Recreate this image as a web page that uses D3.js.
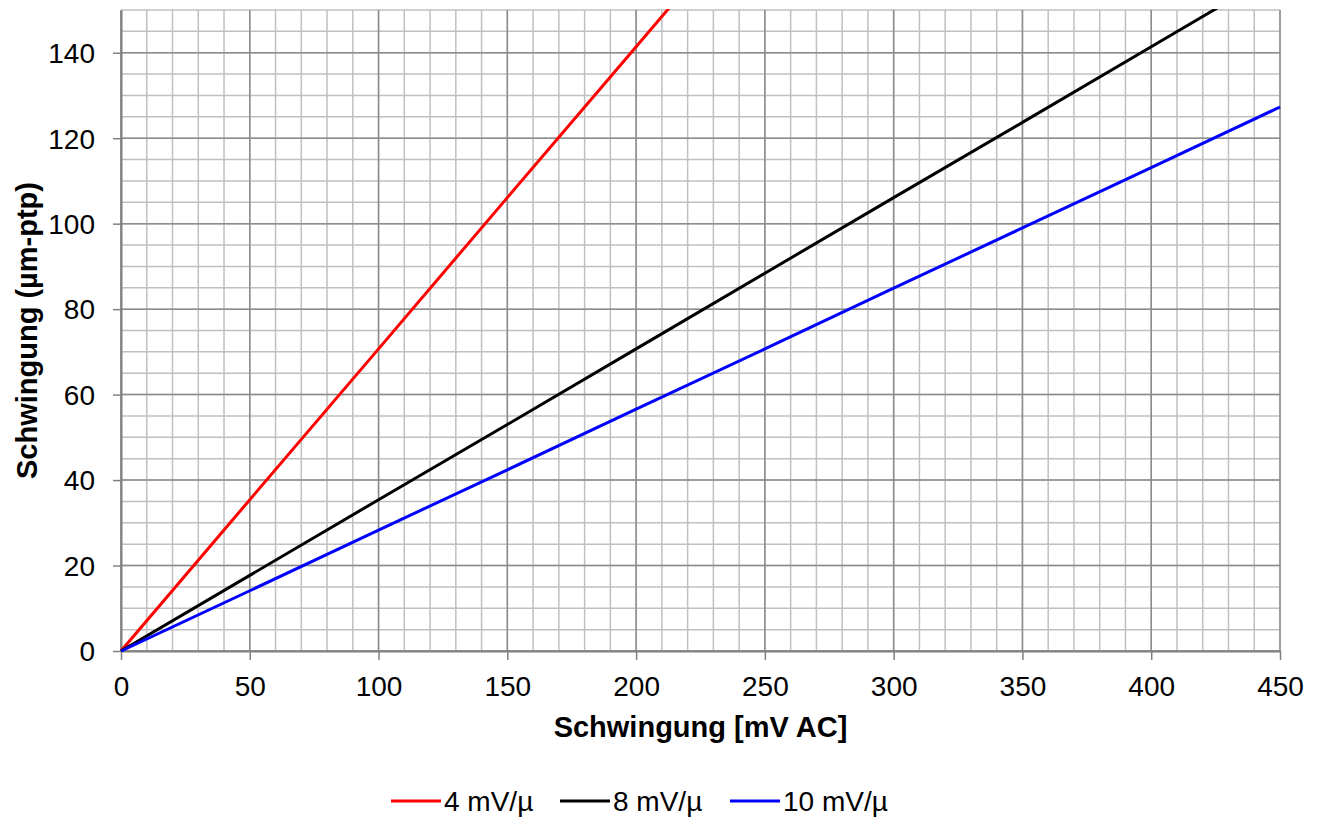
<!DOCTYPE html>
<html>
<head>
<meta charset="utf-8">
<script src="https://cdn.jsdelivr.net/npm/d3@7"></script>
<style>
  body { margin: 0; background: #fff; }
  svg { font-family: "Liberation Sans", Arial, sans-serif; }
  .tick text { font-size: 28px; fill: #000; }
</style>
</head>
<body>
<div id="chart"></div>
<script>
// data
var mvValues = [0, 50, 100, 150, 200, 250, 300, 350, 400, 450];
var series4 = [0, 35.4, 70.7, 106.1, 141.4, 176.8, 212.1, 247.5, 282.8, 318.2];
var series8 = [0, 17.7, 35.4, 53.0, 70.7, 88.4, 106.1, 123.7, 141.4, 159.1];
var series10 = [0, 14.1, 28.3, 42.4, 56.6, 70.7, 84.9, 99.0, 113.1, 127.3];
var seriesNames = ["4 mV/\u00b5", "8 mV/\u00b5", "10 mV/\u00b5"];
var seriesColors = ["#ff0000", "#000000", "#0000ff"];
var xTicks = [0, 50, 100, 150, 200, 250, 300, 350, 400, 450];
var yTicks = [0, 20, 40, 60, 80, 100, 120, 140];

var svgWidth = 1323;
var svgHeight = 817;
var margin = { top: 10, right: 43, bottom: 166, left: 121 };
var chartWidth = svgWidth - margin.left - margin.right;
var chartHeight = svgHeight - margin.top - margin.bottom;

var svg = d3.select("#chart")
    .append("svg")
    .attr("width", svgWidth)
    .attr("height", svgHeight);

var chartGroup = svg.append("g")
    .attr("transform", `translate(${margin.left}, ${margin.top})`);

var xScale = d3.scaleLinear().domain([0, 450]).range([0, chartWidth]);
var yScale = d3.scaleLinear().domain([0, 150]).range([chartHeight, 0]);

// minor grid
chartGroup.append("g")
    .selectAll("line")
    .data(d3.range(0, 451, 10))
    .enter().append("line")
    .attr("x1", d => xScale(d)).attr("x2", d => xScale(d))
    .attr("y1", 0).attr("y2", chartHeight)
    .attr("stroke", "#c0c0c0").attr("stroke-width", 1.5);

chartGroup.append("g")
    .selectAll("line")
    .data(d3.range(0, 151, 5))
    .enter().append("line")
    .attr("x1", 0).attr("x2", chartWidth)
    .attr("y1", d => yScale(d)).attr("y2", d => yScale(d))
    .attr("stroke", "#c0c0c0").attr("stroke-width", 1.5);

// major grid
chartGroup.append("g")
    .selectAll("line")
    .data(xTicks)
    .enter().append("line")
    .attr("x1", d => xScale(d)).attr("x2", d => xScale(d))
    .attr("y1", 0).attr("y2", chartHeight)
    .attr("stroke", "#8c8c8c").attr("stroke-width", 1.5);

chartGroup.append("g")
    .selectAll("line")
    .data(yTicks)
    .enter().append("line")
    .attr("x1", 0).attr("x2", chartWidth)
    .attr("y1", d => yScale(d)).attr("y2", d => yScale(d))
    .attr("stroke", "#8c8c8c").attr("stroke-width", 1.5);

// axes
var bottomAxis = d3.axisBottom(xScale).tickValues(xTicks).tickSize(9).tickPadding(16).tickSizeOuter(0);
var leftAxis = d3.axisLeft(yScale).tickValues(yTicks).tickSize(8).tickPadding(18).tickSizeOuter(0);

var xAxisG = chartGroup.append("g")
    .attr("transform", `translate(0, ${chartHeight})`)
    .call(bottomAxis);
var yAxisG = chartGroup.append("g").call(leftAxis);

[xAxisG, yAxisG].forEach(g => {
    g.select(".domain").attr("stroke", "#808080").attr("stroke-width", 2);
    g.selectAll(".tick line").attr("stroke", "#808080").attr("stroke-width", 1.5);
});
yAxisG.selectAll(".tick text").attr("dy", "0.35em");

// lines
svg.append("defs").append("clipPath").attr("id", "plotClip")
    .append("rect").attr("width", chartWidth + 2).attr("height", chartHeight + 2).attr("y", -1).attr("x", -1);

var allSeries = [series4, series8, series10];
var line = d3.line()
    .x((d, i) => xScale(mvValues[i]))
    .y(d => yScale(d));

chartGroup.append("g")
    .attr("clip-path", "url(#plotClip)")
    .selectAll("path")
    .data(allSeries)
    .enter().append("path")
    .attr("d", line)
    .attr("fill", "none")
    .attr("stroke", (d, i) => seriesColors[i])
    .attr("stroke-width", 3);

// axis titles
chartGroup.append("text")
    .attr("x", chartWidth / 2)
    .attr("y", chartHeight + 86)
    .attr("text-anchor", "middle")
    .attr("font-size", "29px")
    .attr("font-weight", "bold")
    .text("Schwingung [mV AC]");

chartGroup.append("text")
    .attr("transform", "rotate(-90)")
    .attr("x", -chartHeight / 2)
    .attr("y", -margin.left + 37)
    .attr("text-anchor", "middle")
    .attr("font-size", "29px")
    .attr("font-weight", "bold")
    .text("Schwingung (\u00b5m-ptp)");

// legend
var legendX = [391, 560, 730];
var legend = svg.append("g")
    .selectAll("g")
    .data(seriesNames)
    .enter().append("g")
    .attr("transform", (d, i) => `translate(${legendX[i]}, 801)`);

legend.append("line")
    .attr("x1", 0).attr("x2", 50)
    .attr("y1", 0).attr("y2", 0)
    .attr("stroke", (d, i) => seriesColors[i])
    .attr("stroke-width", 3);

legend.append("text")
    .attr("x", 53)
    .attr("y", 10)
    .attr("font-size", "28px")
    .text(d => d);
</script>
</body>
</html>
